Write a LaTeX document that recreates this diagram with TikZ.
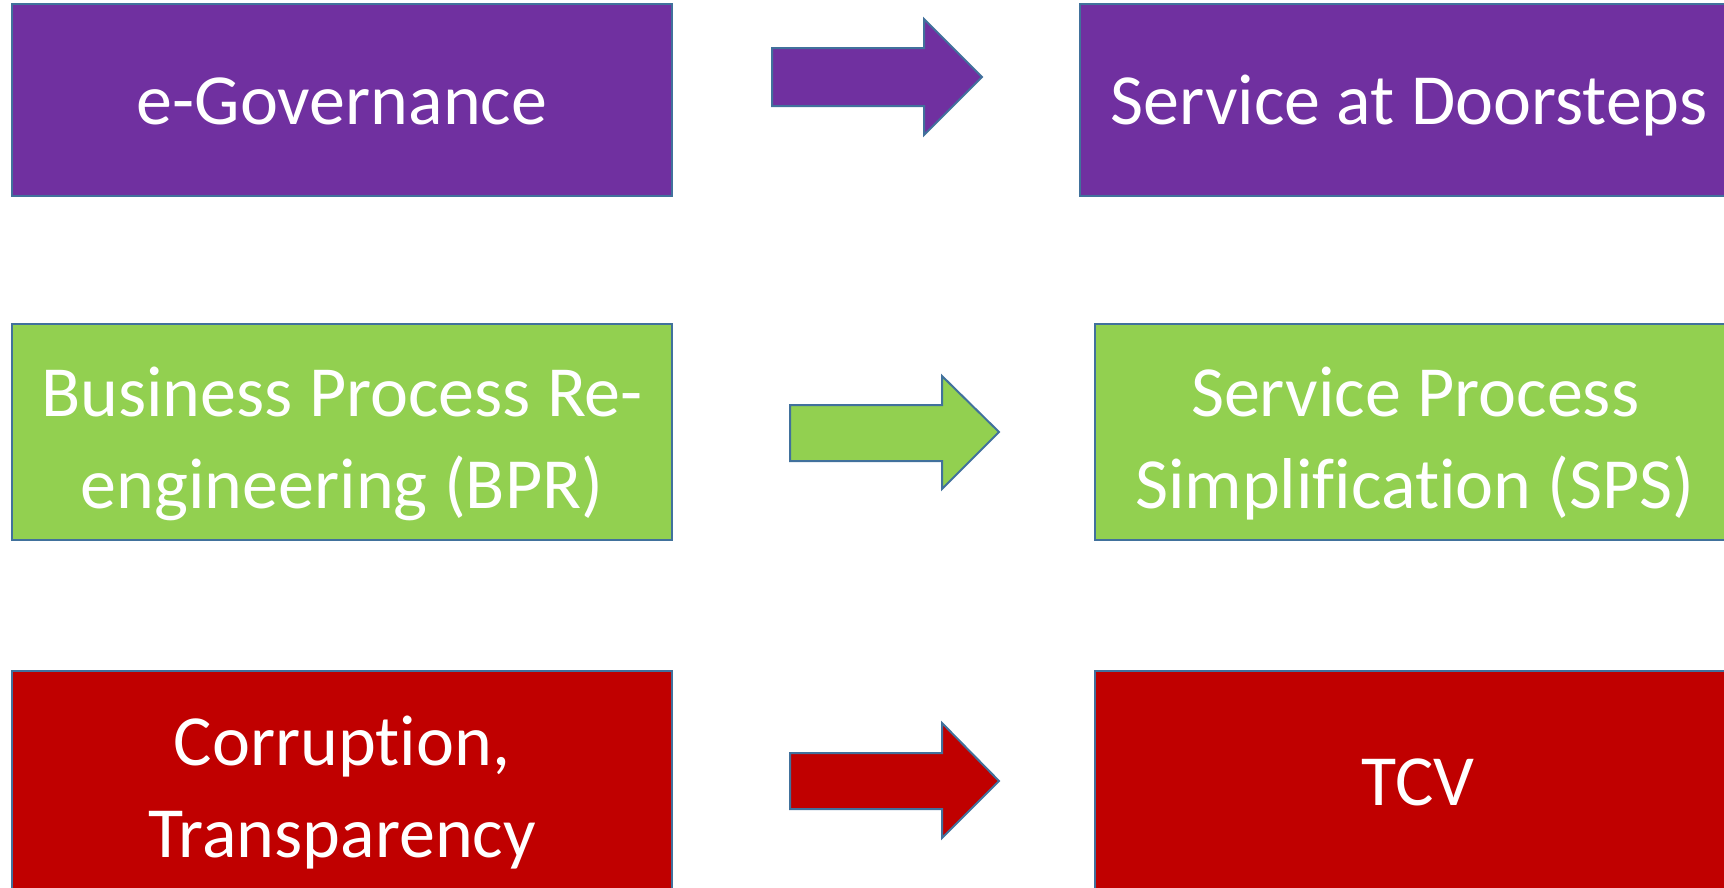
\documentclass[tikz,border=0pt]{standalone}
\usepackage{fontspec}
\setmainfont[Ligatures=NoCommon]{Carlito}
\definecolor{edgeblue}{HTML}{41719C}
\definecolor{boxpurple}{HTML}{7030A0}
\definecolor{boxgreen}{HTML}{92D050}
\definecolor{boxred}{HTML}{C00000}
% fixed line height/depth so that every label sits on the same baseline grid
\newcommand\lnstrut{\rule[-18pt]{0pt}{84pt}}
\tikzset{
  panel/.style={draw=edgeblue, line width=2pt, inner sep=0pt, outer sep=0pt},
  label text/.style={text=white, align=center, inner sep=0pt,
    font=\fontsize{72}{92}\selectfont},
  two lines/.style={label text, yshift=-6pt},
  bigarrow/.style={draw=edgeblue, line width=2pt, line join=miter}
}
\begin{document}
\begin{tikzpicture}[x=1pt, y=-1pt]
  \useasboundingbox (0,0) rectangle (1724,887);
  \begin{scope}
    \clip (0,0) rectangle (1724,887);
    % row 1
    \node[panel, fill=boxpurple, minimum width=660pt, minimum height=192pt] (eg) at (342,100) {};
    \node[label text] (eg-t) at (eg.center) {\lnstrut e-Governance};
    \node[panel, fill=boxpurple, minimum width=658pt, minimum height=192pt] (sd) at (1409,100) {};
    \node[label text] (sd-t) at (sd.center) {\lnstrut Service at Doorsteps};
    % row 2
    \node[panel, fill=boxgreen, minimum width=660pt, minimum height=216pt] (bpr) at (342,432) {};
    \node[two lines] (bpr-t) at (bpr.center) {\lnstrut Business Process Re-\\\lnstrut engineering (BPR)};
    \node[panel, fill=boxgreen, minimum width=640pt, minimum height=216pt] (sps) at (1415,432) {};
    \node[two lines] (sps-t) at (sps.center) {\lnstrut Service Process\\\lnstrut Simplification (SPS)};
    % row 3
    \node[panel, fill=boxred, minimum width=660pt, minimum height=220pt] (ct) at (342,781) {};
    \node[two lines] (ct-t) at (ct.center) {\lnstrut Corruption,\\\lnstrut Transparency};
    \node[panel, fill=boxred, minimum width=646pt, minimum height=220pt] (tcv) at (1418,781) {};
    \node[label text] (tcv-t) at (tcv.center) {\lnstrut TCV};
    % block arrows between the columns
    \draw[bigarrow, fill=boxpurple] (772,48) -- (924,48) -- (924,19) -- (982,77) -- (924,135) -- (924,106) -- (772,106) -- cycle;
    \draw[bigarrow, fill=boxgreen] (790,405) -- (942,405) -- (942,376) -- (999,432) -- (942,489) -- (942,461) -- (790,461) -- cycle;
    \draw[bigarrow, fill=boxred] (790,753) -- (942,753) -- (942,723) -- (999,781) -- (942,838) -- (942,809) -- (790,809) -- cycle;
  \end{scope}
\end{tikzpicture}
\end{document}
